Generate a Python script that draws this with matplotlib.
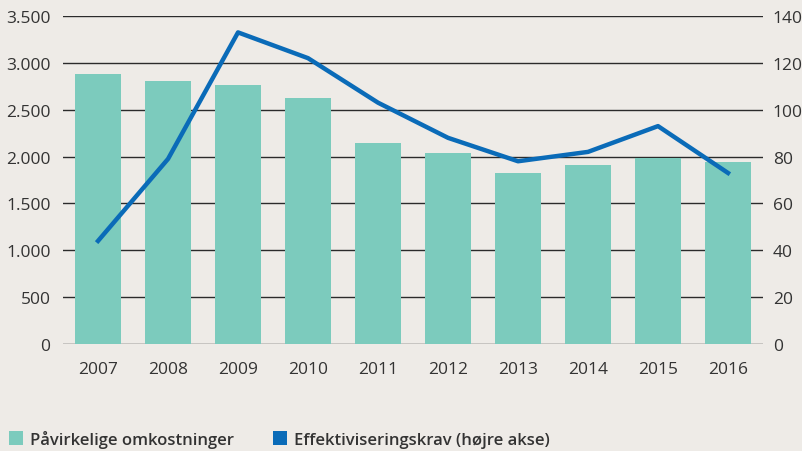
import matplotlib.pyplot as plt
import numpy as np
from matplotlib.patches import Patch

# Data
years = ["2007", "2008", "2009", "2010", "2011", "2012", "2013", "2014", "2015", "2016"]
omkostninger = [2880, 2810, 2760, 2620, 2150, 2040, 1830, 1910, 1990, 1945]
effektivisering = [44, 79, 133, 122, 103, 88, 78, 82, 93, 73]

bg = "#eeebe7"
teal = "#7ccbbd"
blue = "#0a6bb8"
txt = "#333333"

plt.rcParams["font.family"] = ["Open Sans", "DejaVu Sans"]

fig = plt.figure(figsize=(8.03, 4.52), dpi=100, facecolor=bg)
ax = fig.add_axes([0.0785, 0.2367, 0.8717, 0.7257], facecolor=bg)
x = np.arange(len(years))

ax.set_axisbelow(True)
ax.yaxis.grid(True, color="#2b2b2b", linewidth=1.0)
ax.bar(x, omkostninger, width=0.66, color=teal, zorder=2)
ax.set_xlim(-0.5, len(years) - 0.5)
ax.set_ylim(0, 3500)
ax.set_yticks(range(0, 3501, 500))
ax.set_yticklabels([f"{v:,}".replace(",", ".") for v in range(0, 3501, 500)])
ax.set_xticks(x)
ax.set_xticklabels(years)
for s in ax.spines.values():
    s.set_visible(False)
ax.tick_params(axis="both", length=0, labelsize=12.5, colors=txt)
ax.tick_params(axis="y", pad=9)
ax.tick_params(axis="x", pad=12)

ax2 = ax.twinx()
ax2.plot(x, effektivisering, color=blue, linewidth=3.2, zorder=3)
ax2.set_ylim(0, 140)
ax2.set_yticks(range(0, 141, 20))
for s in ax2.spines.values():
    s.set_visible(False)
ax2.tick_params(axis="y", length=0, labelsize=12.5, colors=txt, pad=7)

handles = [Patch(facecolor=teal, edgecolor="none"), Patch(facecolor=blue, edgecolor="none")]
labels = ["Påvirkelige omkostninger", "Effektiviseringskrav (højre akse)"]
leg = fig.legend(handles, labels, loc="lower left", bbox_to_anchor=(-0.008, -0.026), ncol=2,
                 frameon=False, handlelength=0.85, handleheight=0.85, handletextpad=0.45,
                 columnspacing=2.3, prop={"size": 12, "weight": "semibold"})
for t in leg.get_texts():
    t.set_color(txt)

fig.savefig("out.png", dpi=100, facecolor=bg)
